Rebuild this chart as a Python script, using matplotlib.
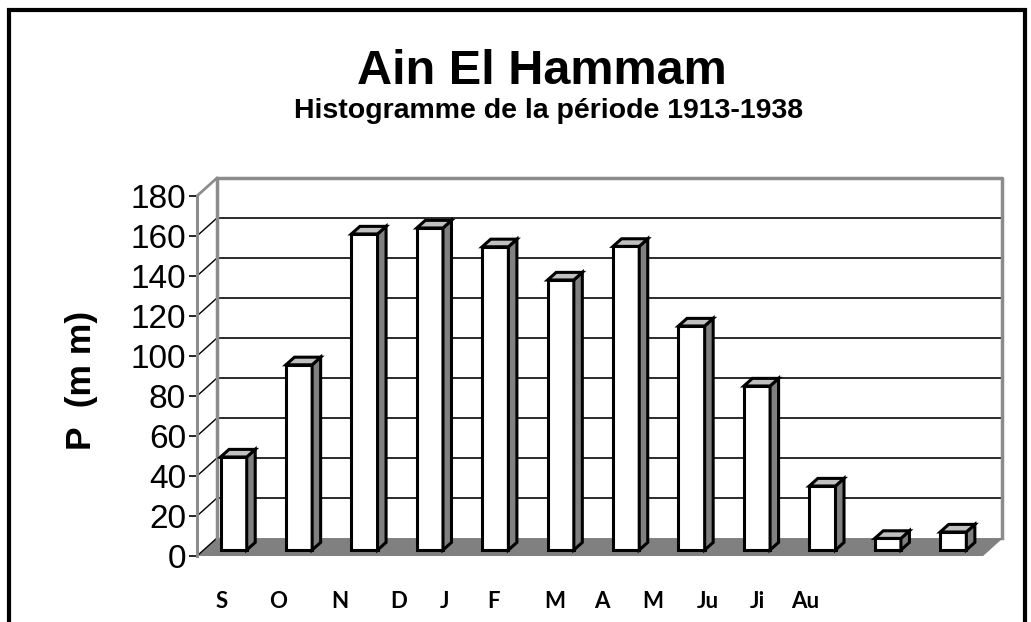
import matplotlib
matplotlib.use('Agg')
import matplotlib.pyplot as plt
from matplotlib.patches import Polygon, Rectangle

months = ['S', 'O', 'N', 'D', 'J', 'F', 'M', 'A', 'M', 'Ju', 'Ji', 'Au']
rain = [46.5, 92.6, 158, 161, 151.6, 135, 151.8, 112, 82, 32, 5.8, 9]
y_ticks = [0, 20, 40, 60, 80, 100, 120, 140, 160, 180]
# where the month labels sit under the floor (they are not centred on the bars in the original)
label_pos = [-0.12, 0.74, 1.69, 2.59, 3.29, 4.03, 4.97, 5.69, 6.46, 7.31, 8.06, 8.8]

W, H = 1031, 622
fig = plt.figure(figsize=(W / 100, H / 100), dpi=100)

# outer frame
fig.patches.append(Rectangle((9 / W, -0.05), 1016 / W, 1.05 - 10 / H, transform=fig.transFigure,
                             fill=False, edgecolor='black', linewidth=3))

fig.text(542 / W, 1 - 71 / H, 'Ain El Hammam', ha='center', va='center',
         fontsize=35, fontweight='bold', family='Liberation Sans')
fig.text(549 / W, 1 - 111 / H, 'Histogramme de la période 1913-1938', ha='center', va='center',
         fontsize=20.5, fontweight='bold', family='Liberation Sans')

# depth of the pseudo 3d box (data units)
dx, dy = 0.305, 8.98
ymax = 180
ax = fig.add_axes([197 / W, 1 - 556 / H, 805 / W, 378 / H])
ax.set_xlim(-0.5, 11.5 + dx)
ax.set_ylim(0, ymax + dy)
for s in ['top', 'right', 'bottom']:
    ax.spines[s].set_visible(False)
ax.spines['left'].set_bounds(0, ymax)
ax.spines['left'].set_color('#8c8c8c')
ax.spines['left'].set_linewidth(2.2)

x0, x1 = -0.5, 11.5
# floor
ax.add_patch(Polygon([(x0, 0), (x1, 0), (x1 + dx, dy), (x0 + dx, dy)], closed=True,
                     facecolor='#808080', edgecolor='none', zorder=1))
# back wall gridlines and side-wall diagonals
for v in y_ticks:
    if 0 < v < ymax:
        ax.plot([x0 + dx, x1 + dx], [v + dy, v + dy], color='#1a1a1a', lw=1.3, zorder=1)
    if v < ymax:
        ax.plot([x0, x0 + dx], [v, v + dy], color='black', lw=1, zorder=1, clip_on=False)
ax.plot([x0, x0 + dx], [ymax, ymax + dy], color='#8c8c8c', lw=2, zorder=1, clip_on=False)
ax.plot([x0 + dx, x0 + dx, x1 + dx, x1 + dx], [dy, ymax + dy, ymax + dy, dy],
        color='#8c8c8c', lw=2.5, zorder=1, clip_on=False)
ax.plot([x1, x1 + dx], [0, dy], color='#808080', lw=1, zorder=1)

# bars
xs = [i + 0.06 for i in range(len(rain))]
bw = 0.4
base = 3
sdx, sdy = 0.13, 3.8
ax.bar(xs, rain, width=bw, bottom=base, facecolor='white', edgecolor='black', linewidth=2.2, zorder=3)
for x, v in zip(xs, rain):
    r = x + bw / 2
    l = x - bw / 2
    top = base + v
    ax.add_patch(Polygon([(r, base), (r + sdx, base + sdy), (r + sdx, top + sdy), (r, top)],
                         closed=True, facecolor='#808080', edgecolor='black', lw=2.2, zorder=3))
    ax.add_patch(Polygon([(l, top), (l + sdx, top + sdy), (r + sdx, top + sdy), (r, top)],
                         closed=True, facecolor='#c0c0c0', edgecolor='black', lw=2.2, zorder=3))

ax.set_yticks(y_ticks)
ax.set_yticklabels([str(v) for v in y_ticks], fontsize=24, family='Liberation Sans')
ax.tick_params(axis='y', length=6, width=1.2, pad=2)
ax.set_xticks(label_pos)
ax.set_xticklabels(months, fontsize=16, fontweight='bold', family='Lato')
ax.tick_params(axis='x', length=0, pad=25)

fig.text(82 / W, 1 - 380 / H, 'P  (m m)', rotation=90, ha='center', va='center',
         fontsize=25.5, fontweight='bold', family='Liberation Sans')

fig.savefig('out.png', dpi=100)
